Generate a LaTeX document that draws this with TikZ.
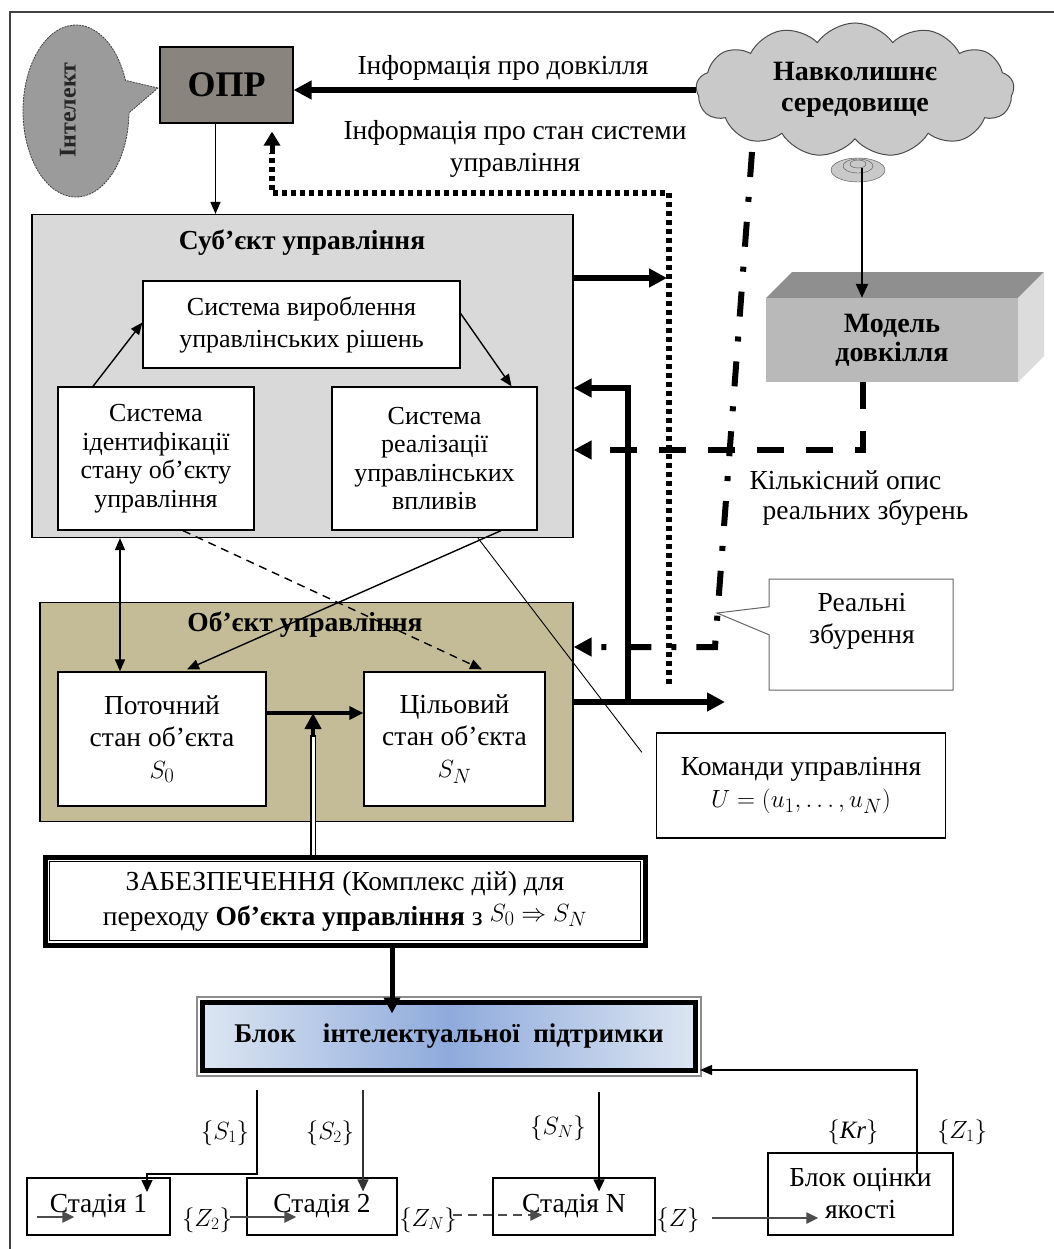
\documentclass[tikz,border=0pt]{standalone}
\usepackage{fontspec}
\setmainfont{Liberation Serif}
\usetikzlibrary{arrows.meta,shapes.callouts,shapes.symbols,calc}
\definecolor{oprc}{HTML}{8A847F}
\definecolor{intc}{HTML}{9B9B9B}
\definecolor{cloudc}{HTML}{C9C9C9}
\definecolor{subjc}{HTML}{D9D9D9}
\definecolor{objc}{HTML}{C4BC96}
\definecolor{mfront}{HTML}{B9B9B9}
\definecolor{mtop}{HTML}{8F8F8F}
\definecolor{mside}{HTML}{DCDCDC}
\definecolor{blokmid}{HTML}{8FAADC}
\definecolor{blokedge}{HTML}{DCE6F2}
\begin{document}
\begin{tikzpicture}[x=1pt,y=-1pt,
  every node/.style={font=\fontsize{27.5}{32}\selectfont},
  bold/.style={font=\bfseries\fontsize{27.5}{32}\selectfont},
  inner/.style={font=\fontsize{26}{28.5}\selectfont},
  bx/.style={draw, fill=white, line width=1.3pt, align=center, inner sep=2pt},
  stbox/.style={draw, line width=1.3pt, inner sep=2pt},
  thinarrow/.style={line width=1.4pt, -{Triangle[length=12pt,width=10pt]}},
  bigarrow/.style={line width=6pt, -{Triangle[length=18pt,width=18pt]}},
  bigline/.style={line width=6pt},
  dotline/.style={line width=6pt, dash pattern=on 5pt off 4pt},
  dashline/.style={line width=6pt, dash pattern=on 27pt off 22pt},
  dashdotline/.style={line width=6pt, dash pattern=on 25pt off 20pt on 5pt off 20pt},
  graytip/.style={line width=2.2pt, draw=black!70, -{Triangle[length=12pt,width=11pt]}},
  mlabel/.style={font=\fontsize{25}{30}\selectfont},
]
\useasboundingbox (0,0) rectangle (1053,1249);
\fill[white] (0,0) rectangle (1053,1249);
\draw[line width=1.6pt, draw=black!75] (10,12) rectangle (1070,1270);

% --- top row ---
\node[ellipse callout, draw=black!75, line width=0.8pt, dash pattern=on 2pt off 1pt, fill=intc,
      minimum width=106pt, minimum height=172pt, callout pointer arc=22,
      callout absolute pointer={(158,88)}] (intel) at (76,111) {};
\node[rotate=90, font=\bfseries\fontsize{24}{28}\selectfont, text=black!85] (inteltext) at (68,110) {Інтелект};

\node[draw, line width=1.2pt, fill=oprc, minimum width=133pt, minimum height=76pt,
      font=\bfseries\fontsize{36}{42}\selectfont] (opr) at (226.5,85) {ОПР};

\node[cloud, cloud puffs=13, cloud puff arc=110, aspect=2.4, draw=black!70, line width=1pt,
      fill=cloudc, minimum width=318pt, minimum height=134pt, align=center,
      font=\bfseries\fontsize{28}{31}\selectfont] (env) at (855,90)
      {Навколишнє\\середовище};
\draw[fill=cloudc, draw=black!70] (858,170) ellipse [x radius=27, y radius=12];
\draw[draw=black!70] (858,166) ellipse [x radius=15, y radius=7];
\draw[draw=black!70] (858,164) ellipse [x radius=8, y radius=4];
\coordinate (envtail) at (862,168);

% model box
\fill[mtop] (766,298) -- (792,272) -- (1044,272) -- (1018,298) -- cycle;
\fill[mside] (1018,298) -- (1044,272) -- (1044,356) -- (1018,382) -- cycle;
\node[fill=mfront, minimum width=252pt, minimum height=84pt, inner sep=0pt, align=center,
      font=\bfseries\fontsize{28}{29}\selectfont]
      (model) at (892,340) {Модель\\довкілля};
\draw[line width=2.4pt, -{Triangle[length=14pt,width=12pt]}] (envtail) -- (envtail |- model.north);

% info arrows / labels
\draw[bigarrow] (env.west) -- (opr.east |- env.west);
\node (lblenv) at (503,68) {Інформація про довкілля};
\node[align=center] (lblstate) at (515,149) {Інформація про стан системи\\управління};

% --- subject ---
\node[draw, line width=1.2pt, fill=subjc, minimum width=541pt, minimum height=323pt] (subj) at (302.5,376) {};
\node[bold] (subjtitle) at (302,243) {Суб’єкт управління};
\node[bx, minimum width=317pt, minimum height=87pt, font=\fontsize{26}{32}\selectfont] (sysdec) at (301.5,324.5) {Система вироблення\\управлінських рішень};
\node[bx, inner, minimum width=196pt, minimum height=143pt] (sysid) at (156,458.5)
      {Система\\ідентифікації\\стану об’єкту\\управління};
\node[bx, inner, minimum width=205pt, minimum height=143pt] (sysreal) at (434.5,458.5)
      {Система\\реалізації\\управлінських\\впливів};
\draw[thinarrow] ($(sysid.north)+(-63,0)$) -- ($(sysdec.west)+(0,-2)$);
\draw[thinarrow] ($(sysdec.east)+(0,-11)$) -- ($(sysreal.north)+(77,0)$);

\draw[thinarrow] ($(opr.south)+(-11,0)$) -- ($(opr.south |- subj.north)+(-11,0)$);

% --- object ---
\node[draw, line width=1.2pt, fill=objc, minimum width=533pt, minimum height=219pt] (obj) at (306.5,712) {};
\node[bold] (objtitle) at (305,625) {Об’єкт управління};
\node[bx, minimum width=208pt, minimum height=134pt] (cur) at (162,739) {Поточний\\стан об’єкта\\$S_0$};
\node[bx, minimum width=181pt, minimum height=134pt] (tgt) at (454.5,739) {Цільовий\\стан об’єкта\\$S_N$};
\coordinate (jn) at (313,713);
\draw[line width=4pt, -{Triangle[length=14pt,width=13pt]}] (cur.east |- jn) -- (tgt.west |- jn);

% between subject and object
\coordinate (dA) at (120,0);
\draw[line width=1.4pt, {Triangle[length=12pt,width=10pt]}-{Triangle[length=12pt,width=10pt]}]
      (subj.south -| dA) -- (cur.north -| dA);
\draw[thinarrow, dashed, dash pattern=on 8pt off 6pt] ($(sysid.south)+(27,0)$) -- ($(tgt.north)+(27.5,-2)$);
\draw[thinarrow] ($(sysreal.south)+(66.5,0)$) -- ($(cur.north)+(25,-2)$);

% right side connectors
\coordinate (s1) at (667,278);
\draw[bigarrow] (subj.east |- s1) -- (s1);
\coordinate (dotBot) at (669,684);
\coordinate (dotTop) at (272,193);
\draw[dotline] (dotBot) |- (dotTop) -- ($(dotTop)+(0,-40)$);
\draw[line width=5pt, -{Triangle[length=14pt,width=16pt]}] ($(dotTop)+(0,-40)$) -- ($(opr.south -| dotTop)+(0,8)$);

\coordinate (Lb) at (628,702);
\coordinate (Lt) at (628,388);
\draw[bigline, -{Triangle[length=18pt,width=18pt]}] (Lb) -- (Lt) -- (subj.east |- Lt);
\coordinate (outEnd) at (725,702);
\draw[bigarrow] (obj.east |- outEnd) -- (outEnd);

\coordinate (mdx) at (863,450);
\draw[dashline, -{Triangle[length=18pt,width=18pt]}] (model.south -| mdx) -- (mdx) -- (subj.east |- mdx);
\node[anchor=west] (lblq1) at (746,480) {Кількісний опис};
\node[anchor=west] (lblq2) at (759,513) {реальних збурень};

\coordinate (dd1) at (752,152);
\coordinate (dd2) at (715,647);
\draw[dashdotline, -{Triangle[length=18pt,width=18pt]}] (dd1) -- (dd2) -- (obj.east |- dd2);

\node[rectangle callout, draw=black!60, line width=1pt, fill=white, minimum width=184pt, minimum height=111pt,
      callout pointer width=28pt, callout absolute pointer={(717,613)}] (real) at (861,634.5) {};
\node[align=center] (realtxt) at (862,621) {Реальні\\збурення};

\node[bx, minimum width=289pt, minimum height=105pt] (cmd) at (801,785.5) {Команди управління\\$U=(u_1,\dots,u_N)$};
\coordinate (cs) at (478,0);
\draw[line width=0.9pt] (subj.south -| cs) -- ($(cmd.north west)+(-14,20)$);

% --- provision ---
\node[draw, line width=5pt, fill=white, minimum width=600pt, minimum height=88pt, align=center,
      font=\fontsize{27.5}{35}\selectfont] (prov) at (345,901)
  {ЗАБЕЗПЕЧЕННЯ (Комплекс дій) для\\переходу \textbf{Об’єкта управління} з \raisebox{4pt}{$S_0\Rightarrow S_N$}};
\draw[line width=1pt] ($(prov.north west)+(7,7)$) rectangle ($(prov.south east)+(-7,-7)$);
\draw[line width=1.2pt, double=white, double distance=3pt] (prov.north -| jn) -- ($(jn)+(0,22)$);
\draw[line width=4pt, -{Triangle[length=16pt,width=16pt]}] ($(jn)+(0,24)$) -- (jn);

% --- intellectual support block ---
\node[draw=black, line width=5pt, left color=blokedge, right color=blokedge, middle color=blokmid,
      minimum width=493pt, minimum height=68pt, font=\bfseries\fontsize{27}{32}\selectfont] (blok) at (449,1036)
      {Блок\quad інтелектуальної\ \ підтримки};
\draw[draw=black!45, line width=2pt] ($(blok.north west)+(-3,-3)$) rectangle ($(blok.south east)+(3,3)$);
\coordinate (bx) at (392,0);
\draw[line width=5pt, -{Triangle[length=16pt,width=16pt]}] (prov.south -| bx) -- ($(blok.north -| bx)+(0,14)$);

% --- stages ---
\node[stbox, minimum width=143pt, minimum height=57pt] (st1) at (98.5,1206.5) {\raisebox{4pt}{Стадія 1}};
\node[stbox, minimum width=150pt, minimum height=57pt] (st2) at (322,1206.5) {\raisebox{4pt}{Стадія 2}};
\node[stbox, minimum width=162pt, minimum height=57pt] (stN) at (574,1206.5) {\raisebox{4pt}{Стадія N}};
\node[stbox, minimum width=185pt, minimum height=82pt, align=center] (qual) at (860.5,1194) {Блок оцінки\\якості};

\coordinate (s1a) at (257,1090);
\coordinate (s1b) at (257,1174);
\coordinate (s1c) at (147,1174);
\draw[line width=1.4pt, -{Triangle[length=12pt,width=11pt]}] (s1a) -- (s1b) -- (s1c) -- ($(s1c)+(0,18)$);
\coordinate (s2a) at (363,1090);
\draw[line width=1.4pt, draw=black!80, -{Triangle[length=12pt,width=11pt]}] (s2a) -- ($(st2.north -| s2a)+(0,14)$);
\coordinate (sNa) at (599,1092);
\draw[line width=1.4pt, -{Triangle[length=12pt,width=11pt]}] (sNa) -- ($(stN.north -| sNa)+(0,14)$);

\node[mlabel] (lS1) at (225,1133) {$\{S_1\}$};
\node[mlabel] (lS2) at (330,1133) {$\{S_2\}$};
\node[mlabel] (lSN) at (558,1128) {$\{S_N\}$};
\node[mlabel] (lKr) at (853,1132) {$\{\mathit{Kr}\}$};
\node[mlabel] (lZ1) at (962,1132) {$\{Z_1\}$};
\node[mlabel] (lZ2) at (207,1220) {$\{Z_2\}$};
\node[mlabel] (lZN) at (428,1220) {$\{Z_N\}$};
\node[mlabel] (lZ) at (678,1220) {$\{Z\}$};

\coordinate (a1) at (37,1217);
\draw[graytip] (a1) -- ($(st1.west |- a1)+(48,0)$);
\coordinate (z2a) at (230,1217);
\draw[graytip] (z2a) -- ($(st2.west |- z2a)+(50,0)$);
\coordinate (zna) at (453,1215);
\draw[graytip, dashed, dash pattern=on 9pt off 6pt] (zna) -- ($(stN.west |- zna)+(50,0)$);
\coordinate (za) at (712,1218);
\draw[graytip] (za) -- ($(qual.west |- za)+(51,0)$);

\coordinate (fb) at (917,1070);
\draw[line width=1.4pt, -{Triangle[length=12pt,width=10pt]}] ($(qual.north -| fb)+(0,22)$) -- (fb) -- ($(blok.east |- fb)+(2,0)$);
\end{tikzpicture}
\end{document}
